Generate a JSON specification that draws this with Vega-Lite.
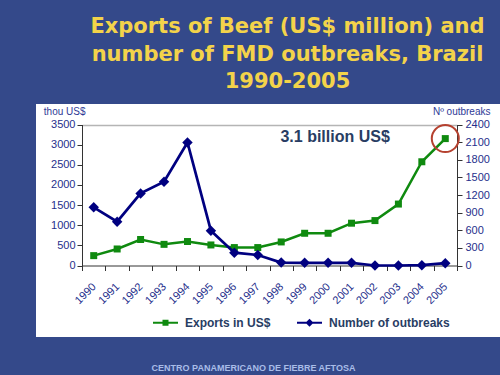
{
  "$schema": "https://vega.github.io/schema/vega-lite/v6.json",
  "width": 464,
  "height": 233,
  "autosize": {"type": "none"},
  "padding": {"left": 36, "top": 104, "right": 0, "bottom": 38},
  "background": "#34498a",
  "title": {
    "text": ["Exports of Beef (US$ million) and", "number of FMD outbreaks, Brazil", "1990-2005"],
    "font": "DejaVu Sans",
    "fontSize": 21,
    "fontWeight": "bold",
    "color": "#f3d34a",
    "lineHeight": 27.5,
    "anchor": "middle",
    "frame": "group",
    "dx": 19.5,
    "offset": 12
  },
  "datasets": {
    "beef": [
      {"year": "1990", "exports": 245, "outbreaks": 990},
      {"year": "1991", "exports": 410, "outbreaks": 745},
      {"year": "1992", "exports": 645, "outbreaks": 1227},
      {"year": "1993", "exports": 525, "outbreaks": 1425},
      {"year": "1994", "exports": 595, "outbreaks": 2094},
      {"year": "1995", "exports": 510, "outbreaks": 592},
      {"year": "1996", "exports": 445, "outbreaks": 218},
      {"year": "1997", "exports": 445, "outbreaks": 179},
      {"year": "1998", "exports": 585, "outbreaks": 50},
      {"year": "1999", "exports": 800, "outbreaks": 45},
      {"year": "2000", "exports": 800, "outbreaks": 45},
      {"year": "2001", "exports": 1050, "outbreaks": 45},
      {"year": "2002", "exports": 1115, "outbreaks": 0},
      {"year": "2003", "exports": 1525, "outbreaks": 0},
      {"year": "2004", "exports": 2575, "outbreaks": 5},
      {"year": "2005", "exports": 3150, "outbreaks": 40}
    ]
  },
  "data": {"name": "beef"},
  "encoding": {
    "x": {
      "field": "year",
      "type": "ordinal",
      "scale": {"type": "band", "range": [46, 421], "paddingInner": 0, "paddingOuter": 0},
      "axis": {
        "title": "CENTRO PANAMERICANO DE FIEBRE AFTOSA",
        "offset": -71.5,
        "labelAngle": -45,
        "labelAlign": "right",
        "labelBaseline": "top",
        "labelFontSize": 11,
        "labelColor": "#262f8c",
        "labelPadding": 10,
        "labelOffset": -4,
        "labelOverlap": false,
        "tickBand": "extent",
        "tickSize": 5,
        "tickColor": "#333333",
        "domainColor": "#333333",
        "grid": false,
        "titleX": 217,
        "titleY": 102,
        "titleAlign": "center",
        "titleBaseline": "middle",
        "titleFontSize": 9,
        "titleFontWeight": "bold",
        "titleColor": "#a9bde8"
      }
    }
  },
  "layer": [
    {
      "encoding": {
        "y": {
          "field": "exports",
          "type": "quantitative",
          "scale": {"domain": [0, 3500], "nice": false, "range": [161.5, 20.5]},
          "axis": {
            "orient": "left",
            "offset": -46,
            "values": [0, 500, 1000, 1500, 2000, 2500, 3000, 3500],
            "format": "d",
            "title": "thou US$",
            "titleAngle": 0,
            "titleAlign": "right",
            "titleBaseline": "middle",
            "titleX": 3,
            "titleY": 7,
            "titleFontSize": 10,
            "titleFontWeight": "normal",
            "titleColor": "#2f3a96",
            "labelFontSize": 11,
            "labelColor": "#262f8c",
            "labelPadding": 2,
            "tickSize": 5,
            "tickColor": "#333333",
            "domainColor": "#333333",
            "grid": true,
            "gridColor": {"condition": {"test": "datum.value == 3500", "value": "#b5b5b5"}, "value": "rgba(0,0,0,0)"},
            "gridWidth": 1.5
          }
        }
      },
      "layer": [
        {
          "mark": {"type": "line", "strokeWidth": 2.5},
          "encoding": {
            "color": {
              "datum": "Exports in US$",
              "scale": {"domain": ["Exports in US$", "Number of outbreaks"], "range": ["#0f8a0f", "#000080"]},
              "legend": {
                "orient": "none",
                "legendX": 117,
                "legendY": 206,
                "direction": "horizontal",
                "title": null,
                "labelFontSize": 12,
                "labelFontWeight": "bold",
                "labelColor": "#283d63",
                "symbolSize": 625,
                "labelOffset": 7,
                "columnPadding": 26,
                "padding": 0,
                "encode": {
                  "symbols": {
                    "update": {
                      "shape": {"signal": "datum.value === 'Exports in US$' ? 'M-1,-0.08H1V0.08H-1Z M-0.24,-0.24H0.24V0.24H-0.24Z' : 'M-1,-0.08H1V0.08H-1Z M-0.32,0L0,-0.32L0.32,0L0,0.32Z'"},
                      "fill": {"signal": "datum.value === 'Exports in US$' ? '#0f8a0f' : '#000080'"},
                      "fillOpacity": {"value": 1},
                      "strokeWidth": {"value": 0},
                      "size": {"value": 625}
                    }
                  }
                }
              }
            }
          }
        },
        {
          "mark": {"type": "point", "shape": "square", "size": 49, "filled": true, "opacity": 1},
          "encoding": {"color": {"datum": "Exports in US$"}}
        },
        {
          "transform": [{"filter": "datum.year == '2005'"}],
          "mark": {"type": "point", "shape": "circle", "size": 729, "filled": false, "stroke": "#b5412f", "strokeWidth": 2, "opacity": 1}
        },
        {
          "transform": [{"filter": "datum.year == '2000'"}],
          "mark": {"type": "text", "fontSize": 16, "fontWeight": "bold", "fill": "#283d63", "align": "center", "baseline": "middle"},
          "encoding": {
            "x": {"field": "year", "type": "ordinal", "bandPosition": 0.8},
            "y": {"datum": 3190, "type": "quantitative"},
            "text": {"value": "3.1 billion US$"}
          }
        }
      ]
    },
    {
      "encoding": {
        "y": {
          "field": "outbreaks",
          "type": "quantitative",
          "scale": {"domain": [0, 2400], "nice": false, "range": [161.5, 20.5]},
          "axis": {
            "orient": "right",
            "offset": -43,
            "values": [0, 300, 600, 900, 1200, 1500, 1800, 2100, 2400],
            "format": "d",
            "title": "Nº outbreaks",
            "titleAngle": 0,
            "titleAlign": "right",
            "titleBaseline": "middle",
            "titleX": 33,
            "titleY": 7,
            "titleFontSize": 10,
            "titleFontWeight": "normal",
            "titleColor": "#2f3a96",
            "labelFontSize": 11,
            "labelColor": "#262f8c",
            "labelPadding": 3,
            "tickSize": 5,
            "tickColor": "#333333",
            "domainColor": "#333333",
            "grid": false
          }
        }
      },
      "layer": [
        {
          "mark": {"type": "line", "strokeWidth": 2.7},
          "encoding": {"color": {"datum": "Number of outbreaks"}}
        },
        {
          "mark": {"type": "point", "shape": "diamond", "size": 110, "filled": true, "opacity": 1},
          "encoding": {"color": {"datum": "Number of outbreaks"}}
        }
      ]
    }
  ],
  "resolve": {"scale": {"y": "independent"}},
  "config": {
    "font": "Liberation Sans",
    "view": {"fill": "white", "stroke": null}
  }
}
